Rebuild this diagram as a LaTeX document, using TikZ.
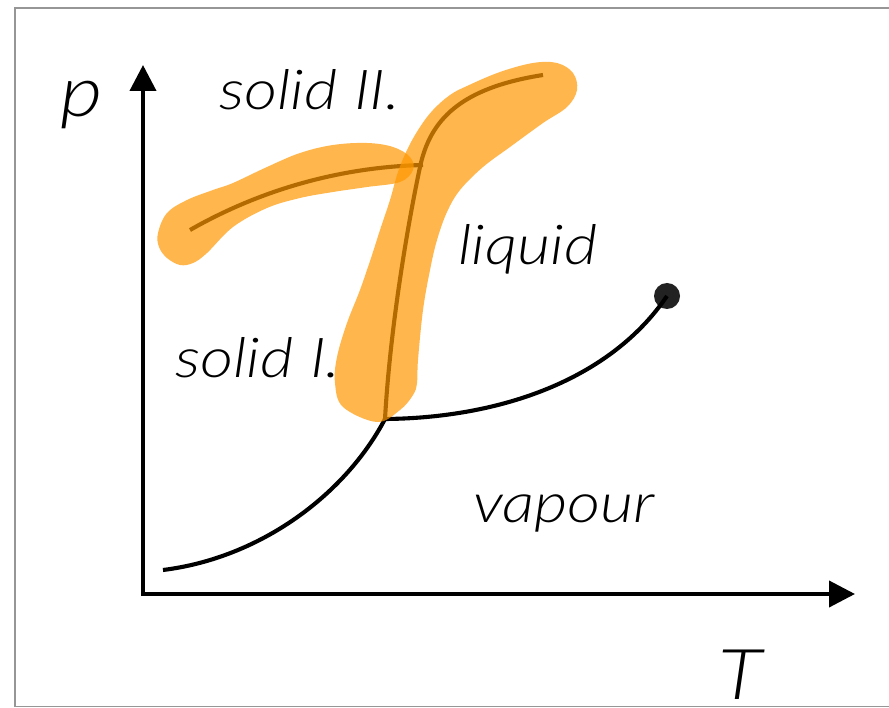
\documentclass[tikz,border=0pt]{standalone}
\usepackage{fontspec}
\usetikzlibrary{arrows.meta}
\IfFontExistsTF{Lato Light Italic}
 {\newfontfamily\lblfam{Lato Light Italic}[FakeStretch=1.17]\newcommand\lblfont{\lblfam}}
 {\newfontfamily\lblfam{Liberation Sans}\newcommand\lblfont{\lblfam\itshape}}
\definecolor{bandorange}{RGB}{255,152,0}
\definecolor{dotgray}{RGB}{34,34,34}
\definecolor{framegray}{RGB}{150,150,150}
\tikzset{
  axisline/.style={line width=4pt, line join=miter,
    {Triangle[length=26pt,width=26pt]}-{Triangle[length=26pt,width=26pt]}},
  curveline/.style={line width=4.1pt},
  band/.style={fill=bandorange, fill opacity=0.7},
  lbl/.style={inner sep=0pt, anchor=base west, font=\lblfont\fontsize{55}{60}\selectfont},
  axlbl/.style={inner sep=0pt, anchor=base west, font=\lblfont\fontsize{70}{80}\selectfont},
  cpdot/.style={circle, fill=dotgray, inner sep=0pt, minimum size=26pt},
}
\begin{document}
\begin{tikzpicture}[x=1pt,y=-1pt]
\useasboundingbox (0,0) rectangle (889,708);
\fill[white] (0,0) rectangle (889,708);
% frame
\draw[framegray, line width=1.5pt] (15,8) rectangle (910,706.5);
% coordinates
\coordinate (O) at (143,594);
\coordinate (ytip) at (143,65);
\coordinate (xtip) at (855,594);
\coordinate (tp) at (385,419);
\coordinate (sub0) at (163,570);
\coordinate (mbend) at (420,167);
\coordinate (mend) at (543,75);
\coordinate (s2a) at (190,230);
\coordinate (s2b) at (423,165);
% labels
\node[axlbl] (lp) at (60,117) {p};
\node[axlbl] (lT) at (718,699) {T};
\node[lbl] (ls2) at (219,110) {solid II.};
\node[lbl] (lliq) at (458,265) {liquid};
\node[lbl] (ls1) at (175,378) {solid I.};
\node[lbl] (lvap) at (473,522) {vapour};
% axes
\draw[axisline] (ytip) -- (O) -- (xtip);
% phase boundaries
\node[cpdot] (cp) at (667,296) {};
\draw[curveline] (sub0) .. controls (260,558) and (345,495) .. (tp);
\draw[curveline] (tp) .. controls (500,418) and (610,380) .. (cp.center);
\draw[curveline] (tp) .. controls (390,330) and (407,228) .. (mbend)
  .. controls (430,120) and (460,88) .. (mend);
\draw[curveline] (s2a) .. controls (260,190) and (340,167) .. (s2b);
% orange highlights
\fill[band] plot[smooth cycle, tension=0.6] coordinates {
  (158,233) (167,213) (187,200) (213,190) (233,183) (267,167) (300,153)
  (333,145) (367,143) (393,147) (410,157) (413,170) (400,182) (367,187)
  (333,192) (300,198) (267,208) (233,227) (207,253) (193,263) (180,265)
  (167,258) (159,247)};
\fill[band] plot[smooth cycle, tension=0.6] coordinates {
  (377,422) (343,407) (335,383) (337,357) (347,323) (360,290) (372,255)
  (380,230) (390,200) (398,172) (408,148) (420,127) (433,110) (450,95)
  (467,86) (500,72) (533,63) (557,63) (573,73) (577,90) (567,107)
  (543,123) (510,147) (483,167) (460,190) (447,212) (437,240) (430,270)
  (423,310) (418,360) (417,383) (413,395) (400,410)};
\end{tikzpicture}
\end{document}
